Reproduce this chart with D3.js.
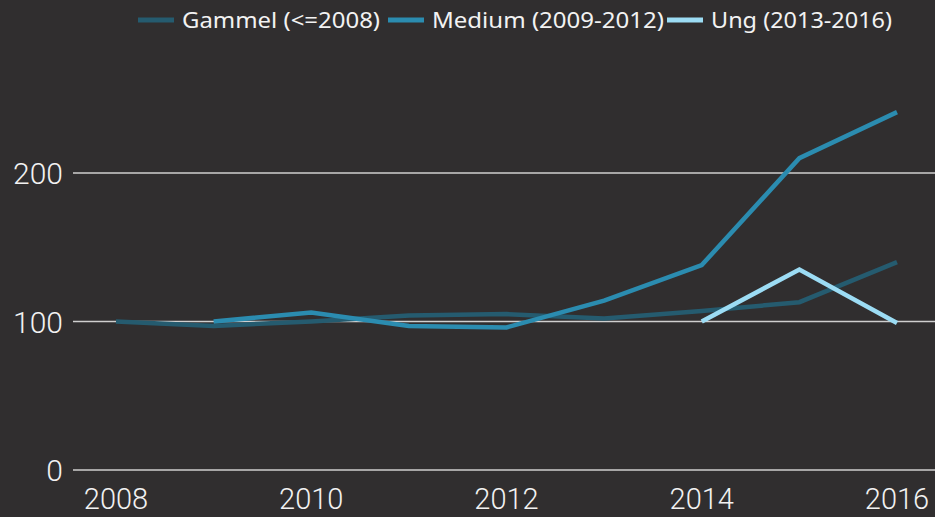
<!DOCTYPE html>
<html>
<head>
<meta charset="utf-8">
<script src="https://cdn.jsdelivr.net/npm/d3@7"></script>
<style>
  html, body { margin: 0; padding: 0; background: #302e2f; }
  svg { display: block; }
</style>
</head>
<body>
<svg id="chart"></svg>
<script>
const width = 935;
const height = 517;

// data
const years = [2008, 2009, 2010, 2011, 2012, 2013, 2014, 2015, 2016];
const gammel = [100, 97, 100, 104, 105, 102, 107, 113, 140];
const medium = [null, 100, 106, 97, 96, 114, 138, 210, 241];
const ung = [null, null, null, null, null, null, 100, 135, 99];
const seriesNames = ["Gammel (<=2008)", "Medium (2009-2012)", "Ung (2013-2016)"];
const seriesColors = ["#255b6f", "#2b8cb0", "#9cdcf4"];
const yTicks = [0, 100, 200];
const xTicks = [2008, 2010, 2012, 2014, 2016];

const svg = d3.select("#chart").attr("width", width).attr("height", height);

const x = d3.scaleLinear().domain([2008, 2016]).range([116, 897]);
const y = d3.scaleLinear().domain([0, 200]).range([470, 173]);

// gridlines + y labels
const yAxis = svg.append("g").attr("class", "y-axis");
yAxis.selectAll("line")
  .data(yTicks)
  .enter()
  .append("line")
  .attr("x1", 73)
  .attr("x2", width)
  .attr("y1", (d) => y(d))
  .attr("y2", (d) => y(d))
  .attr("stroke", "#cfcfcf")
  .attr("stroke-width", 1.5);

yAxis.selectAll("text")
  .data(yTicks)
  .enter()
  .append("text")
  .attr("x", 63)
  .attr("y", (d) => y(d) + 11)
  .attr("text-anchor", "end")
  .attr("fill", "#f2f2f2")
  .attr("font-family", "Roboto, sans-serif")
  .attr("font-weight", 300)
  .attr("font-size", 30)
  .text((d) => d);

// x labels
svg.append("g")
  .attr("class", "x-axis")
  .selectAll("text")
  .data(xTicks)
  .enter()
  .append("text")
  .attr("x", (d) => x(d))
  .attr("y", 509)
  .attr("text-anchor", "middle")
  .attr("fill", "#f2f2f2")
  .attr("font-family", "Roboto, sans-serif")
  .attr("font-weight", 300)
  .attr("font-size", 29)
  .text((d) => d);

// lines
const series = [gammel, medium, ung].map((vals, i) => ({
  name: seriesNames[i],
  color: seriesColors[i],
  points: years.map((yr, j) => ({ year: yr, value: vals[j] }))
}));

const line = d3.line()
  .defined((d) => d.value !== null)
  .x((d) => x(d.year))
  .y((d) => y(d.value));

svg.append("g")
  .attr("class", "lines")
  .selectAll("path")
  .data(series)
  .enter()
  .append("path")
  .attr("d", (d) => line(d.points))
  .attr("fill", "none")
  .attr("stroke", (d) => d.color)
  .attr("stroke-width", 4.5)
  .attr("stroke-linejoin", "miter");

// legend
const legendX = [138, 388, 667];
const legendTextW = [198, 232, 181];
const legend = svg.append("g").attr("class", "legend")
  .selectAll("g")
  .data(series)
  .enter()
  .append("g")
  .attr("transform", (d, i) => `translate(${legendX[i]},20)`);

legend.append("line")
  .attr("x1", 0)
  .attr("x2", 36)
  .attr("stroke", (d) => d.color)
  .attr("stroke-width", 5);

legend.append("text")
  .attr("x", 44)
  .attr("y", 8)
  .attr("fill", "#f2f2f2")
  .attr("font-family", "'Noto Sans', sans-serif")
  .attr("font-size", 21)
  .attr("textLength", (d, i) => legendTextW[i])
  .attr("lengthAdjust", "spacingAndGlyphs")
  .text((d) => d.name);
</script>
</body>
</html>
